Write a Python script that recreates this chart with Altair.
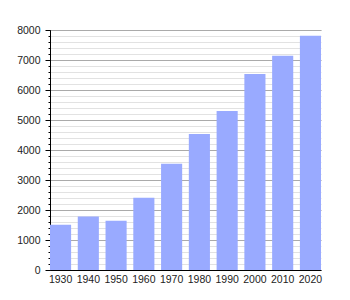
import altair as alt
import pandas as pd

years = ["1930", "1940", "1950", "1960", "1970", "1980", "1990", "2000", "2010", "2020"]
population = [1510, 1780, 1645, 2410, 3545, 4530, 5300, 6535, 7145, 7810]

major_ticks = [0, 1000, 2000, 3000, 4000, 5000, 6000, 7000, 8000]
minor_ticks = list(range(0, 8001, 200))

df = pd.DataFrame({"year": years, "pop": population})

FONT = "Liberation Sans"
FSIZE = 10.5

yscale = alt.Scale(domain=[0, 8000], nice=False, zero=True)
xenc = alt.X("year:N", sort=years, title=None,
             scale=alt.Scale(paddingInner=0.24, paddingOuter=0.0),
             axis=alt.Axis(labelAngle=0, ticks=False, domainColor="#000000",
                           labelFont=FONT, labelFontSize=FSIZE, labelColor="#222222",
                           labelPadding=4, grid=False))

minor = alt.Chart(df).mark_bar(opacity=0).encode(
    x=xenc,
    y=alt.Y("pop:Q", scale=yscale, title=None,
            axis=alt.Axis(values=minor_ticks, labels=False, tickSize=2,
                          tickColor="#000000", domain=False, grid=True,
                          gridColor="#e2e2e2", gridWidth=1, orient="left",
                          zindex=0)),
)

major = alt.Chart(df).mark_bar(color="#99aaff").encode(
    x=xenc,
    y=alt.Y("pop:Q", scale=yscale, title=None,
            axis=alt.Axis(values=major_ticks, format="d", tickSize=5,
                          tickColor="#000000", domainColor="#000000", grid=True,
                          gridColor="#aaaaaa", gridWidth=1, labelFont=FONT,
                          labelFontSize=FSIZE, labelColor="#222222",
                          labelPadding=5, orient="left", zindex=0)),
)

chart = alt.layer(minor, major).resolve_axis(y="independent").properties(
    width=271, height=240,
    autosize=alt.AutoSizeParams(type="none"),
    padding={"left": 50, "top": 30, "right": 29, "bottom": 30},
).configure_view(stroke=None).configure_axis(domainWidth=1, tickWidth=1)

chart.save("out.html", embed_options={"renderer": "svg", "actions": False})
